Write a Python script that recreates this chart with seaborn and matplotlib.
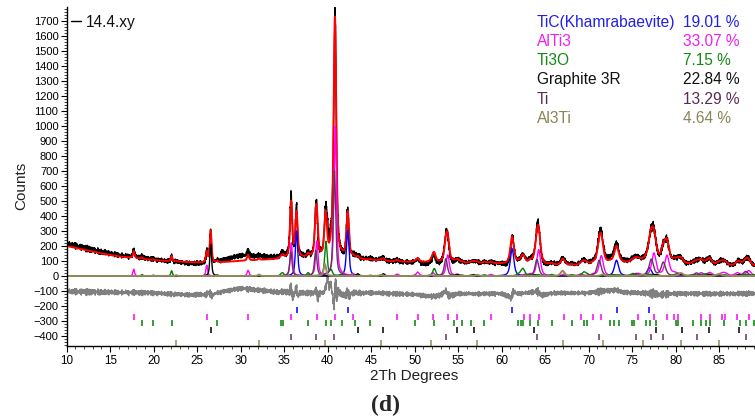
import numpy as np
import pandas as pd
import matplotlib
matplotlib.use("Agg")
import matplotlib.pyplot as plt
import seaborn as sns
from matplotlib.ticker import MultipleLocator
from matplotlib.lines import Line2D

# ---------------- data ----------------
phases = ["TiC(Khamrabaevite)", "AlTi3", "Ti3O", "Graphite 3R", "Ti", "Al3Ti"]
wt_pct = ["19.01 %", "33.07 %", "7.15 %", "22.84 %", "13.29 %", "4.64 %"]
phase_colors = ["#0000FF", "#FF00FF", "#008000", "#000000", "#663366", "#938B5B"]
text_colors = ["#2020E8", "#F020F0", "#138A13", "#111111", "#5A2A55", "#8B8455"]

# reflection positions (2theta) and fitted peak heights (counts) per phase
tic_pos = [36.42, 42.3, 61.2, 73.2, 76.97]
tic_int = [300, 305, 182, 105, 55]

alti3_pos = [17.71, 26.1, 30.85, 35.82, 38.75, 40.87, 42.9, 48.0, 50.35, 52.1,
             53.8, 54.9, 58.75, 62.6, 63.26, 64.25, 67.2, 69.1, 70.5, 71.45,
             75.7, 77.5, 79.0, 79.8, 80.3, 82.9, 83.9, 85.3, 85.7, 87.1, 88.4]
alti3_int = [45, 72, 37, 220, 230, 1000, 12, 12, 25, 20,
             140, 10, 10, 8, 10, 175, 12, 12, 10, 135,
             15, 150, 133, 15, 12, 20, 22, 15, 15, 20, 35]

ti3o_pos = [18.66, 19.96, 22.06, 27.3, 34.65, 34.85, 37.75, 39.8, 40.4, 41.65,
            43.1, 44.9, 50.0, 52.25, 54.5, 55.4, 56.5, 58.0, 61.9, 62.2,
            62.45, 63.26, 64.2, 65.75, 68.05, 69.45, 69.85, 72.45, 72.95, 73.5,
            75.0, 75.2, 76.6, 77.05, 77.74, 80.0, 80.3, 82.0, 82.9, 83.45,
            83.9, 85.6, 87.4, 88.1, 89.0]
ti3o_int = [10, 6, 35, 8, 12, 18, 22, 230, 35, 8,
            5, 5, 5, 50, 8, 6, 6, 8, 8, 10,
            45, 8, 8, 10, 8, 25, 10, 8, 6, 6,
            8, 10, 8, 8, 8, 8, 10, 8, 8, 10,
            8, 8, 8, 8, 8]

graphite_pos = [26.55, 43.46, 46.4, 54.9, 56.8, 63.75, 77.7, 80.7, 83.87, 87.3]
graphite_int = [212, 15, 15, 10, 10, 8, 10, 10, 10, 10]

ti_pos = [35.77, 38.62, 40.78, 53.58, 64.05, 71.2, 75.44, 77.2, 78.58, 82.4, 88.05]
ti_int = [160, 170, 700, 115, 110, 105, 15, 110, 90, 20, 30]

al3ti_pos = [22.6, 32.1, 39.68, 46.1, 51.9, 57.15, 67.0, 71.6, 76.2, 80.6, 85.0]
al3ti_int = [6, 10, 80, 8, 8, 8, 35, 10, 10, 20, 15]

# background of the fit (control points, counts)
bg_x = [10, 12, 14, 16, 18, 20, 22, 24, 26, 28, 30, 32, 34, 36, 38, 40, 42, 44, 46,
        48, 50, 52, 54, 56, 58, 60, 62, 64, 66, 68, 70, 72, 74, 76, 78, 80, 82, 84,
        86, 88, 89.2]
bg_y = [200, 175, 150, 130, 118, 105, 98, 92, 88, 92, 100, 105, 112, 118, 118, 115,
        112, 108, 100, 95, 92, 90, 88, 86, 84, 80, 78, 76, 70, 66, 68, 78, 85, 85,
        80, 76, 74, 72, 66, 58, 55]

# misfit observed - calculated (control points, counts)
mis_x = [10, 15, 20, 24, 26, 26.4, 26.7, 27, 28, 30, 32, 34, 35.6, 35.8, 35.95, 36.2,
         36.4, 36.55, 36.8, 38.5, 38.65, 38.85, 39.1, 39.6, 39.85, 40.0, 40.15, 40.35,
         40.55, 40.72, 40.9, 41.05, 41.2, 41.5, 42.1, 42.3, 42.5, 42.7, 45, 50, 52, 53,
         53.6, 53.9, 55, 60, 61.1, 61.3, 62, 64.2, 64.5, 66, 70, 72, 73, 74, 77.5, 78,
         80, 85, 89.2]
mis_y = [15, 10, 5, -8, -5, 10, -15, 0, 15, 35, 25, 12, 10, 50, -30, 0,
         45, -20, 5, 5, 35, -30, 5, 10, 60, 115, 40, 70,
         -10, -75, 70, -40, 20, 0, -15, 20, -25, 5, 5, -5, -20, -10,
         20, -15, 0, 0, -25, 10, 0, 15, -10, 5, 5, 20, 25, 10, 0, -5,
         0, 0, 0]
diff_offset = -118

# hand-read counting scatter (relative units)
jitter_a = [0.31, -0.72, 0.55, -0.18, 0.89, -0.47, 0.06, -0.93, 0.64, -0.29, 0.41,
            -0.81, 0.17, 0.73, -0.56, -0.08, 0.95, -0.38, 0.22, -0.66, 0.48, -0.12,
            0.83, -0.99, 0.36, -0.51, 0.69, 0.02, -0.77, 0.27, -0.34, 0.58, -0.86,
            0.13, 0.77, -0.43, -0.21, 0.92, -0.61, 0.39, -0.05, 0.67, -0.89, 0.19,
            0.52, -0.70, 0.10, -0.25, 0.85, -0.53, 0.33, -0.97, 0.45, -0.15, 0.62,
            -0.40, 0.08, 0.79, -0.63, 0.24, -0.84]
jitter_b = [-0.44, 0.71, -0.09, 0.38, -0.82, 0.57, -0.26, 0.93, -0.61, 0.14, -0.35,
            0.66, -0.91, 0.23, 0.48, -0.73, 0.05, 0.87, -0.52, 0.29, -0.17, 0.79,
            -0.68, 0.42, -0.03, 0.61, -0.95, 0.34, -0.22, 0.74, -0.57, 0.11, 0.90,
            -0.46, 0.19, -0.79, 0.53, -0.31, 0.68, -0.12, 0.25, -0.64, 0.46]

row_y = [-228, -272, -316, -362, -407, -447]

# ---------------- build the profiles ----------------
x = np.arange(10.0, 89.2, 0.02)


def pv(xx, c, h):
    w = max(0.22, 0.33 + 0.007 * (c - 40))
    d = (xx - c) / w
    lor = 1.0 / (1.0 + 4.0 * d * d)
    gau = np.exp(-4.0 * np.log(2) * d * d)
    return h * (0.6 * lor + 0.4 * gau)


phase_data = [(tic_pos, tic_int), (alti3_pos, alti3_int), (ti3o_pos, ti3o_int),
              (graphite_pos, graphite_int), (ti_pos, ti_int), (al3ti_pos, al3ti_int)]
components = []
for pos, hts in phase_data:
    prof = np.zeros_like(x)
    for c, h in zip(pos, hts):
        prof += pv(x, c, h)
    components.append(prof)

bg = np.interp(x, bg_x, bg_y)
calc = bg + np.sum(components, axis=0)
scatter = 0.65 * np.resize(jitter_a, x.size) + 0.45 * np.resize(jitter_b, x.size)
misfit = np.interp(x, mis_x, mis_y)
obs = calc + misfit + scatter * 1.8 * np.sqrt(calc)
diff = obs - calc + diff_offset

df = pd.DataFrame({"x": x, "obs": obs, "calc": calc, "diff": diff})
for i, comp in enumerate(components):
    df[f"c{i}"] = comp

# ---------------- draw ----------------
sns.set_theme(style="ticks")
plt.rcParams["font.family"] = ["Liberation Sans", "DejaVu Sans"]
plt.rcParams["axes.unicode_minus"] = True

W, H = 755, 420
fig = plt.figure(figsize=(7.55, 4.2), dpi=100)
ax = fig.add_axes([66.7 / W, 1 - 346 / H, (W - 66.7) / W, (346 - 7) / H])

sns.lineplot(data=df, x="x", y="obs", ax=ax, color="black", lw=1.0,
             estimator=None, sort=False)
sns.lineplot(data=df, x="x", y="calc", ax=ax, color="#FF0000", lw=1.4,
             estimator=None, sort=False)
sns.lineplot(data=df, x="x", y="diff", ax=ax, color="#808080", lw=1.0,
             estimator=None, sort=False)
for i in range(len(phases)):
    sns.lineplot(data=df, x="x", y=f"c{i}", ax=ax, color=phase_colors[i],
                 lw=1.4 if i == 5 else 1.0, estimator=None, sort=False)

for (pos, _), ry, col in zip(phase_data, row_y, phase_colors):
    ax.vlines(pos, ry - 20, ry + 20, colors=col, lw=1.1)

ax.set_xlim(10, 89.12)
ax.set_ylim(-466, 1791)
ax.xaxis.set_major_locator(MultipleLocator(5))
ax.xaxis.set_minor_locator(MultipleLocator(1))
ax.yaxis.set_major_locator(MultipleLocator(100))
ax.yaxis.set_minor_locator(MultipleLocator(20))
ax.tick_params(axis="both", which="major", direction="out", length=4, width=0.8,
               labelsize=8.0, colors="black", pad=2)
ax.tick_params(axis="both", which="minor", direction="out", length=2, width=0.6)
ax.tick_params(axis="x", which="major", pad=2.5, labelsize=8.4)
ax.set_xlabel("")
ax.set_ylabel("")
for s in ["top", "right"]:
    ax.spines[s].set_visible(False)
for s in ["left", "bottom"]:
    ax.spines[s].set_linewidth(1.0)
    ax.spines[s].set_color("black")

fig.text(21 / W, 1 - 186 / H, "Counts", rotation=90, ha="center", va="center",
         fontsize=11, color="#222222")
fig.text(413.7 / W, 1 - 376 / H, "2Th Degrees", ha="center", va="center",
         fontsize=11, color="#222222")
fig.text(386 / W, 1 - 405 / H, "(d)", ha="center", va="center", fontsize=17,
         fontweight="bold", family=["Liberation Serif", "DejaVu Serif"])

# data-file legend
fig.add_artist(Line2D([70.7 / W, 81 / W], [1 - 20.7 / H, 1 - 20.7 / H],
                      color="black", lw=1.0, transform=fig.transFigure))
fig.text(86 / W, 1 - 26.7 / H, "14.4.xy", ha="left", va="baseline",
         fontsize=11.2, color="#111111")

# phase list with weight percentages
for i, (name, pct) in enumerate(zip(phases, wt_pct)):
    yb = 1 - (26.7 + 19.2 * i) / H
    fig.text(537 / W, yb, name, ha="left", va="baseline", fontsize=11.2,
             color=text_colors[i])
    fig.text(683 / W, yb, pct, ha="left", va="baseline", fontsize=11.2,
             color=text_colors[i])

fig.savefig("out.png", dpi=100)
